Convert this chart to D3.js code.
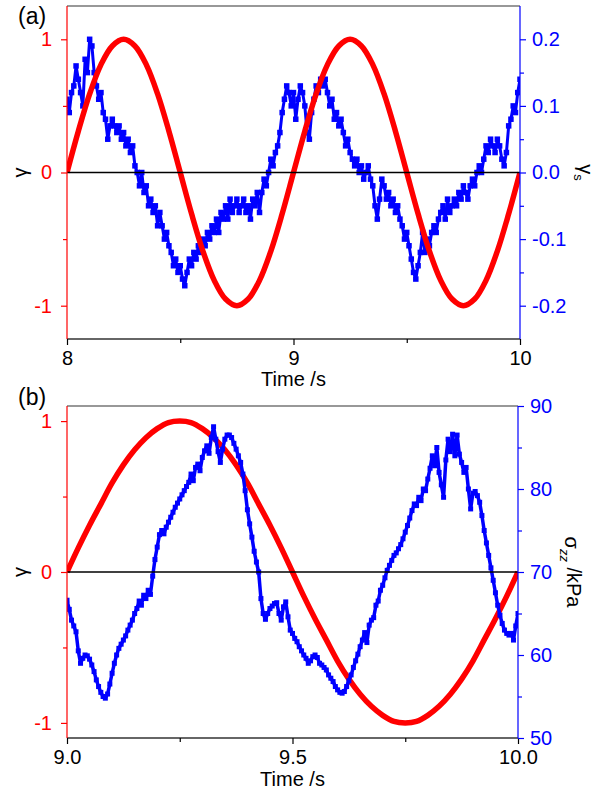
<!DOCTYPE html>
<html>
<head>
<meta charset="utf-8">
<script src="https://cdn.jsdelivr.net/npm/d3@7"></script>
<style>
  body { margin: 0; background: #fff; }
  svg text { font-family: "Liberation Sans", Arial, sans-serif; }
  .domain { display: none; }
</style>
</head>
<body>
<div id="chart"></div>
<script>
// ---- data ----
// strain gamma (red), sampled every 0.05 s in (a), 0.025 s in (b)
const gammaA = [0, 0.31, 0.59, 0.81, 0.95, 1, 0.95, 0.81, 0.59, 0.31,
  0, -0.31, -0.59, -0.81, -0.95, -1, -0.95, -0.81, -0.59, -0.31,
  0, 0.31, 0.59, 0.81, 0.95, 1, 0.95, 0.81, 0.59, 0.31,
  0, -0.31, -0.59, -0.81, -0.95, -1, -0.95, -0.81, -0.59, -0.31, 0];
const gammaB = [0, 0.16, 0.31, 0.45, 0.59, 0.71, 0.81, 0.89, 0.95, 0.99,
  1, 0.99, 0.95, 0.89, 0.81, 0.71, 0.59, 0.45, 0.31, 0.16,
  0, -0.16, -0.31, -0.45, -0.59, -0.71, -0.81, -0.89, -0.95, -0.99,
  -1, -0.99, -0.95, -0.89, -0.81, -0.71, -0.59, -0.45, -0.31, -0.16, 0];

// gamma_s (blue, panel a), every 0.01 s from 8 s
const gammaS = [0.11, 0.09, 0.12, 0.13, 0.16, 0.14, 0.12, 0.10, 0.17, 0.15,
  0.20, 0.19, 0.15, 0.13, 0.11, 0.12, 0.09, 0.08, 0.05, 0.07,
  0.08, 0.07, 0.06, 0.07, 0.05, 0.06, 0.04, 0.05, 0.03, 0.04,
  0.01, 0.00, -0.02, 0.00, -0.03, -0.02, -0.05, -0.04, -0.06, -0.05,
  -0.08, -0.06, -0.08, -0.10, -0.09, -0.11, -0.12, -0.14, -0.13, -0.15,
  -0.14, -0.16, -0.17, -0.15, -0.13, -0.14, -0.12, -0.13, -0.11, -0.12,
  -0.10, -0.11, -0.09, -0.10, -0.08, -0.09, -0.07, -0.09, -0.06, -0.07,
  -0.05, -0.07, -0.04, -0.06, -0.05, -0.04, -0.06, -0.05, -0.04, -0.06,
  -0.05, -0.07, -0.04, -0.05, -0.03, -0.06, -0.03, -0.01, -0.02, 0.00,
  0.02, 0.01, 0.03, 0.04, 0.06, 0.09, 0.11, 0.13, 0.12, 0.10,
  0.12, 0.08, 0.11, 0.13, 0.12, 0.10, 0.06, 0.05, 0.09, 0.11,
  0.13, 0.12, 0.14, 0.13, 0.14, 0.12, 0.10, 0.11, 0.08, 0.09,
  0.07, 0.08, 0.06, 0.04, 0.05, 0.03, 0.02, 0.01, 0.02, 0.00,
  0.01, -0.01, 0.00, 0.01, -0.01, -0.02, -0.05, -0.07, -0.04, -0.01,
  -0.02, -0.04, -0.03, -0.05, -0.04, -0.06, -0.05, -0.07, -0.08, -0.10,
  -0.09, -0.11, -0.13, -0.15, -0.16, -0.14, -0.12, -0.09, -0.12, -0.10,
  -0.11, -0.09, -0.08, -0.09, -0.07, -0.06, -0.05, -0.07, -0.04, -0.06,
  -0.05, -0.04, -0.05, -0.03, -0.04, -0.02, -0.03, -0.04, -0.02, -0.01,
  -0.02, 0.00, 0.01, 0.00, 0.02, 0.04, 0.03, 0.05, 0.04, 0.03,
  0.05, 0.04, 0.02, 0.01, 0.03, 0.07, 0.08, 0.10, 0.09, 0.12, 0.14];

// sigma_zz in kPa (blue, panel b), every 0.005 s from 9 s
const sigmaZZ = [66.6, 65.5, 64.2, 63.5, 62.8, 60.5, 59.0, 59.6, 60.0, 59.9,
  59.5, 58.8, 58.0, 57.0, 56.2, 55.5, 55.0, 54.8, 55.3, 56.5,
  57.8, 59.0, 60.0, 60.8, 61.3, 61.8, 62.3, 63.0, 63.6, 64.2,
  65.0, 65.6, 66.5, 66.0, 67.2, 66.8, 67.8, 67.3, 69.5, 71.5,
  73.0, 74.5, 75.0, 74.6, 75.4, 76.0, 76.6, 77.2, 77.8, 78.3,
  78.8, 79.3, 79.8, 80.3, 80.8, 81.8, 81.0, 82.6, 83.0, 82.2,
  83.8, 84.6, 85.2, 84.3, 86.2, 87.5, 86.0, 84.5, 83.2, 84.8,
  86.0, 86.5, 86.5, 86.2, 85.5, 84.8, 84.0, 83.2, 81.8, 79.8,
  77.5, 75.8, 74.2, 72.5, 71.2, 70.0, 66.8, 65.0, 64.3, 65.0,
  65.6, 65.9, 66.2, 66.3, 65.0, 64.2, 65.8, 66.4, 64.6, 63.0,
  62.6, 62.0, 61.6, 61.0, 60.5, 60.0, 59.6, 59.0, 59.3, 59.8,
  60.0, 59.7, 59.0, 58.8, 58.5, 58.2, 57.6, 57.2, 56.8, 56.2,
  55.8, 55.5, 55.4, 55.6, 56.2, 56.9, 57.6, 58.5, 59.3, 60.1,
  61.0, 61.8, 62.7, 61.5, 63.6, 64.2, 64.5, 66.0, 66.5, 67.8,
  68.4, 69.3, 70.2, 70.8, 71.4, 72.0, 72.3, 72.8, 73.3, 74.0,
  74.8, 75.6, 76.5, 77.4, 78.2, 78.0, 79.0, 78.6, 80.0, 79.8,
  81.2, 82.5, 84.0, 82.8, 85.0, 82.0, 80.5, 79.0, 83.5, 86.0,
  84.5, 86.6, 84.0, 86.5, 84.2, 83.2, 82.0, 82.6, 80.0, 77.6,
  79.5, 79.7, 79.2, 78.4, 76.8, 75.0, 73.5, 72.0, 70.5, 69.0,
  67.5, 66.0, 64.8, 63.8, 63.0, 62.6, 62.4, 62.6, 61.8, 63.5, 65.0];

const xTicksA = [8, 9, 10], xMinorA = [8.5, 9.5];
const xTicksB = [9.0, 9.5, 10.0], xMinorB = [9.25, 9.75];
const gTicks = [-1, 0, 1], gMinor = [-0.5, 0.5];
const gsTicks = [-0.2, -0.1, 0.0, 0.1, 0.2], gsMinor = [-0.15, -0.05, 0.05, 0.15];
const sTicks = [50, 60, 70, 80, 90], sMinor = [55, 65, 75, 85];

const RED = "#ff0000", BLUE = "#0000ff";

const svg = d3.select("#chart").append("svg")
  .attr("width", 606)
  .attr("height", 793);

function drawPanel(p) {
  let x = d3.scaleLinear().domain(p.xDomain).range([p.left, p.right]);
  let yL = d3.scaleLinear().domain(p.gDomain).range([p.bottom, p.top]);
  let yR = d3.scaleLinear().domain(p.rDomain).range([p.bottom, p.top]);

  let g = svg.append("g");

  let clipId = "clip-" + p.name;
  g.append("clipPath").attr("id", clipId)
    .append("rect")
    .attr("x", p.left).attr("y", p.top)
    .attr("width", p.right - p.left).attr("height", p.bottom - p.top);

  let plot = g.append("g").attr("clip-path", "url(#" + clipId + ")");

  let redLine = d3.line()
    .x(d => x(d[0])).y(d => yL(d[1]))
    .curve(d3.curveCatmullRom);
  let blueLine = d3.line()
    .x(d => x(d[0])).y(d => yR(d[1]));

  let redPts = p.gamma.map((v, i) => [p.xDomain[0] + i * p.redStep, v]);
  let bluePts = p.blue.map((v, i) => [p.xDomain[0] + i * p.blueStep, v]);

  function drawRed() {
    plot.append("path").datum(redPts)
      .attr("d", redLine)
      .attr("fill", "none")
      .attr("stroke", RED)
      .attr("stroke-width", 5.5);
  }
  function drawBlue() {
    plot.append("path").datum(bluePts)
      .attr("d", blueLine)
      .attr("fill", "none")
      .attr("stroke", BLUE)
      .attr("stroke-linejoin", "round")
      .attr("stroke-width", p.blueWidth);
    plot.selectAll(".pt-" + p.name)
      .data(bluePts)
      .enter().append("rect")
      .attr("class", "pt-" + p.name)
      .attr("x", d => x(d[0]) - p.sq / 2)
      .attr("y", d => yR(d[1]) - p.sq / 2)
      .attr("width", p.sq).attr("height", p.sq)
      .attr("fill", BLUE);
  }
  if (p.redOnTop) { drawBlue(); drawRed(); } else { drawRed(); drawBlue(); }

  // zero strain line
  plot.append("line")
    .attr("x1", p.left).attr("x2", p.right)
    .attr("y1", yL(0)).attr("y2", yL(0))
    .attr("stroke", "#000").attr("stroke-width", 1.5);

  // frame lines
  g.append("line").attr("x1", p.left).attr("x2", p.right)
    .attr("y1", p.top).attr("y2", p.top)
    .attr("stroke", "#333").attr("stroke-width", 1.2);
  g.append("line").attr("x1", p.left).attr("x2", p.right)
    .attr("y1", p.bottom).attr("y2", p.bottom)
    .attr("stroke", "#333").attr("stroke-width", 1.5);
  g.append("line").attr("x1", p.left).attr("x2", p.left)
    .attr("y1", p.top).attr("y2", p.bottom)
    .attr("stroke", RED).attr("stroke-width", 1.2);
  g.append("line").attr("x1", p.right).attr("x2", p.right)
    .attr("y1", p.top).attr("y2", p.bottom)
    .attr("stroke", BLUE).attr("stroke-width", 1.2);

  function styleAxis(sel, color) {
    sel.selectAll(".tick line").attr("stroke", color).attr("stroke-width", 1.2);
    sel.selectAll(".tick text")
      .attr("fill", color)
      .style("font-size", "20px");
  }

  // bottom axis
  let bx = g.append("g").attr("transform", "translate(0," + p.bottom + ")");
  bx.call(d3.axisBottom(x).tickValues(p.xTicks).tickFormat(p.xFormat)
    .tickSize(6).tickSizeOuter(0).tickPadding(6));
  styleAxis(bx, "#000");
  let bxm = g.append("g").attr("transform", "translate(0," + p.bottom + ")");
  bxm.call(d3.axisBottom(x).tickValues(p.xMinor).tickFormat("").tickSize(4).tickSizeOuter(0));
  styleAxis(bxm, "#000");

  // left axis
  let ly = g.append("g").attr("transform", "translate(" + p.left + ",0)");
  ly.call(d3.axisLeft(yL).tickValues(gTicks).tickFormat(d => d < 0 ? "-" + Math.abs(d) : String(d))
    .tickSize(6).tickSizeOuter(0).tickPadding(9));
  styleAxis(ly, RED);
  let lym = g.append("g").attr("transform", "translate(" + p.left + ",0)");
  lym.call(d3.axisLeft(yL).tickValues(gMinor).tickFormat("").tickSize(4).tickSizeOuter(0));
  styleAxis(lym, RED);

  // right axis
  let ry = g.append("g").attr("transform", "translate(" + p.right + ",0)");
  ry.call(d3.axisRight(yR).tickValues(p.rTicks).tickFormat(p.rFormat)
    .tickSize(6).tickSizeOuter(0).tickPadding(6));
  styleAxis(ry, BLUE);
  let rym = g.append("g").attr("transform", "translate(" + p.right + ",0)");
  rym.call(d3.axisRight(yR).tickValues(p.rMinor).tickFormat("").tickSize(4).tickSizeOuter(0));
  styleAxis(rym, BLUE);

  // titles
  g.append("text")
    .attr("x", (p.left + p.right) / 2).attr("y", p.bottom + p.titleDy)
    .attr("text-anchor", "middle")
    .style("font-size", "20px")
    .text("Time /s");

  g.append("text")
    .attr("transform", "translate(27," + yL(0) + ") rotate(-90)")
    .attr("text-anchor", "middle")
    .style("font-size", "20px")
    .text("γ");

  let rt = g.append("text")
    .attr("transform", "translate(" + p.rTitleX + "," + yR(p.rTitleAt) + ") rotate(90)")
    .attr("text-anchor", "middle")
    .style("font-size", "20px");
  rt.append("tspan").text(p.rTitle[0]);
  rt.append("tspan").attr("dy", "0.35em").style("font-size", "13px")
    .style("font-style", p.rTitle[2]).text(p.rTitle[1]);
  if (p.rTitle[3]) rt.append("tspan").attr("dy", "-0.35em").text(p.rTitle[3]);

  g.append("text")
    .attr("x", 18).attr("y", p.top + p.labelDy)
    .style("font-size", "23px")
    .text(p.name === "a" ? "(a)" : "(b)");
}

drawPanel({
  name: "a",
  left: 67, right: 520, top: 6, bottom: 339,
  xDomain: [8, 10], gDomain: [-1.25, 1.25], rDomain: [-0.25, 0.25],
  xTicks: xTicksA, xMinor: xMinorA, xFormat: d => String(d),
  rTicks: gsTicks, rMinor: gsMinor,
  rFormat: d => (d < 0 ? "-" : "") + Math.abs(d).toFixed(1),
  gamma: gammaA, redStep: 0.05,
  blue: gammaS, blueStep: 0.01, blueWidth: 3, sq: 5.5,
  redOnTop: true,
  rTitle: ["γ", "s", "normal", null], rTitleX: 579, rTitleAt: 0,
  labelDy: 18, titleDy: 47
});

drawPanel({
  name: "b",
  left: 67, right: 518, top: 406, bottom: 738,
  xDomain: [9, 10], gDomain: [-1.1, 1.1], rDomain: [50, 90],
  xTicks: xTicksB, xMinor: xMinorB, xFormat: d3.format(".1f"),
  rTicks: sTicks, rMinor: sMinor, rFormat: d => String(d),
  gamma: gammaB, redStep: 0.025,
  blue: sigmaZZ, blueStep: 0.005, blueWidth: 3.5, sq: 5,
  redOnTop: false,
  rTitle: ["σ", "zz", "italic", " /kPa"], rTitleX: 565, rTitleAt: 70,
  labelDy: -1, titleDy: 48
});
</script>
</body>
</html>
